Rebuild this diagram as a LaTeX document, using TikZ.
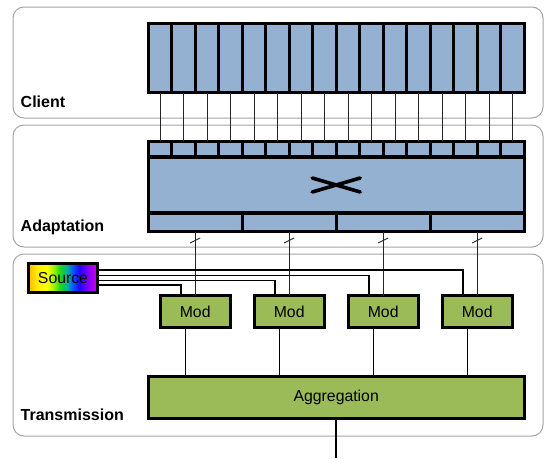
\documentclass[tikz,border=0pt]{standalone}
\usepackage{fontspec}
\setmainfont{Liberation Sans}
\usetikzlibrary{calc}

\definecolor{cellblue}{RGB}{149,177,209}
\definecolor{modgreen}{RGB}{155,187,89}
\definecolor{panelgray}{RGB}{165,165,165}

% left-to-right spectrum used for the source box
\pgfdeclarehorizontalshading{spectrum}{100bp}{%
  rgb(0bp)=(1,0.72,0); rgb(25bp)=(1,0.72,0);
  rgb(31bp)=(1,0.93,0); rgb(38bp)=(1,1,0);
  rgb(43bp)=(0.65,0.95,0); rgb(48bp)=(0.1,0.85,0.1);
  rgb(53bp)=(0,0.7,0.6); rgb(57bp)=(0,0.35,1);
  rgb(62bp)=(0.15,0,1); rgb(68bp)=(0.5,0,1);
  rgb(75bp)=(0.85,0,0.9); rgb(100bp)=(0.85,0,0.9)}

\tikzset{
  panel/.style={draw=panelgray, line width=1pt, rounded corners=11pt,
    inner sep=0pt, outer sep=0pt, anchor=north west},
  cell/.style={draw=black, line width=3.4pt, fill=cellblue,
    inner sep=0pt, outer sep=0pt, anchor=north west},
  greenbox/.style={draw=black, line width=3.4pt, fill=modgreen,
    inner sep=0pt, outer sep=0pt, font=\fontsize{15.8}{18}\selectfont},
  srcbox/.style={draw=black, line width=3.4pt, shade, shading=spectrum,
    inner sep=0pt, outer sep=0pt, font=\fontsize{15.8}{18}\selectfont},
  lbl/.style={anchor=base west, inner sep=0pt,
    font=\fontsize{16}{19}\selectfont\bfseries},
  wire/.style={draw=black!85, line width=0.9pt},
  bus/.style={draw=black, line width=1.5pt},
}

\begin{document}
\begin{tikzpicture}[x=1pt, y=-1pt]
\useasboundingbox (0,0) rectangle (546,458);

% layer panels
\node[panel, minimum width=530pt, minimum height=111pt] (pclient) at (13,7) {};
\node[panel, minimum width=530pt, minimum height=122pt] (padapt) at (13,125) {};
\node[panel, minimum width=530pt, minimum height=182pt] (ptrans) at (13,254) {};

\node[lbl] (lclient) at (20.5,107.5) {Client};
\node[lbl] (ladapt) at (20.5,231) {Adaptation};
\node[lbl] (ltrans) at (20.5,420.5) {Transmission};

% client ports
\foreach \i in {1,...,16}
  \node[cell, minimum width=23.5pt, minimum height=69pt] (c\i) at ({148.2+(\i-1)*23.5}, 23.5) {};

% adaptation: input ports, switch fabric, output groups
\foreach \i in {1,...,16}
  \node[cell, minimum width=23.5pt, minimum height=15.5pt] (a\i) at ({148.2+(\i-1)*23.5}, 141.5) {};
\node[cell, minimum width=376pt, minimum height=56pt] (sw) at (148.2,157) {};
\foreach \j in {1,...,4}
  \node[cell, minimum width=94pt, minimum height=18.5pt] (b\j) at ({148.2+(\j-1)*94}, 213) {};

% crossing symbol of the switch
\draw[line width=3.6pt, line cap=round] ($(sw.center)+(-24,-7)$) -- ($(sw.center)+(24,7)$);
\draw[line width=3.6pt, line cap=round] ($(sw.center)+(-24,7)$) -- ($(sw.center)+(24,-7)$);

% transmission blocks
\foreach \j in {1,...,4}
  \node[greenbox, minimum width=70pt, minimum height=32pt] (m\j) at ({195.2+(\j-1)*94}, 311.5) {Mod};
\node[greenbox, minimum width=376pt, minimum height=42pt] (agg) at (336.2,397.5) {Aggregation};
\node[srcbox, minimum width=69pt, minimum height=29pt] (src) at (63,278) {Source};

% client to adaptation
\foreach \i in {1,...,16}
  \draw[wire] (c\i.south) -- (a\i.north);

% adaptation to modulators, with bus ticks; modulators to aggregation
\foreach \j in {1,...,4} {
  \draw[wire] (b\j.south) -- coordinate[pos=0.14] (tk\j) (m\j.north);
  \draw[wire] ($(tk\j)+(-5,2.5)$) -- ($(tk\j)+(5,-2.5)$);
  \draw[bus] ([xshift=-9.5pt]m\j.south) -- ([xshift=-9.5pt]m\j.south |- agg.north);
}

% source feeds
\foreach \j/\ys in {1/-7,2/-2.5,3/2.5,4/8}
  \draw[bus] ([yshift=\ys pt]src.east) -| ([xshift=-14pt]m\j.north);

% line output
\coordinate (out) at (336.2,458);
\draw[bus] (agg.south) -- (out);
\end{tikzpicture}
\end{document}
